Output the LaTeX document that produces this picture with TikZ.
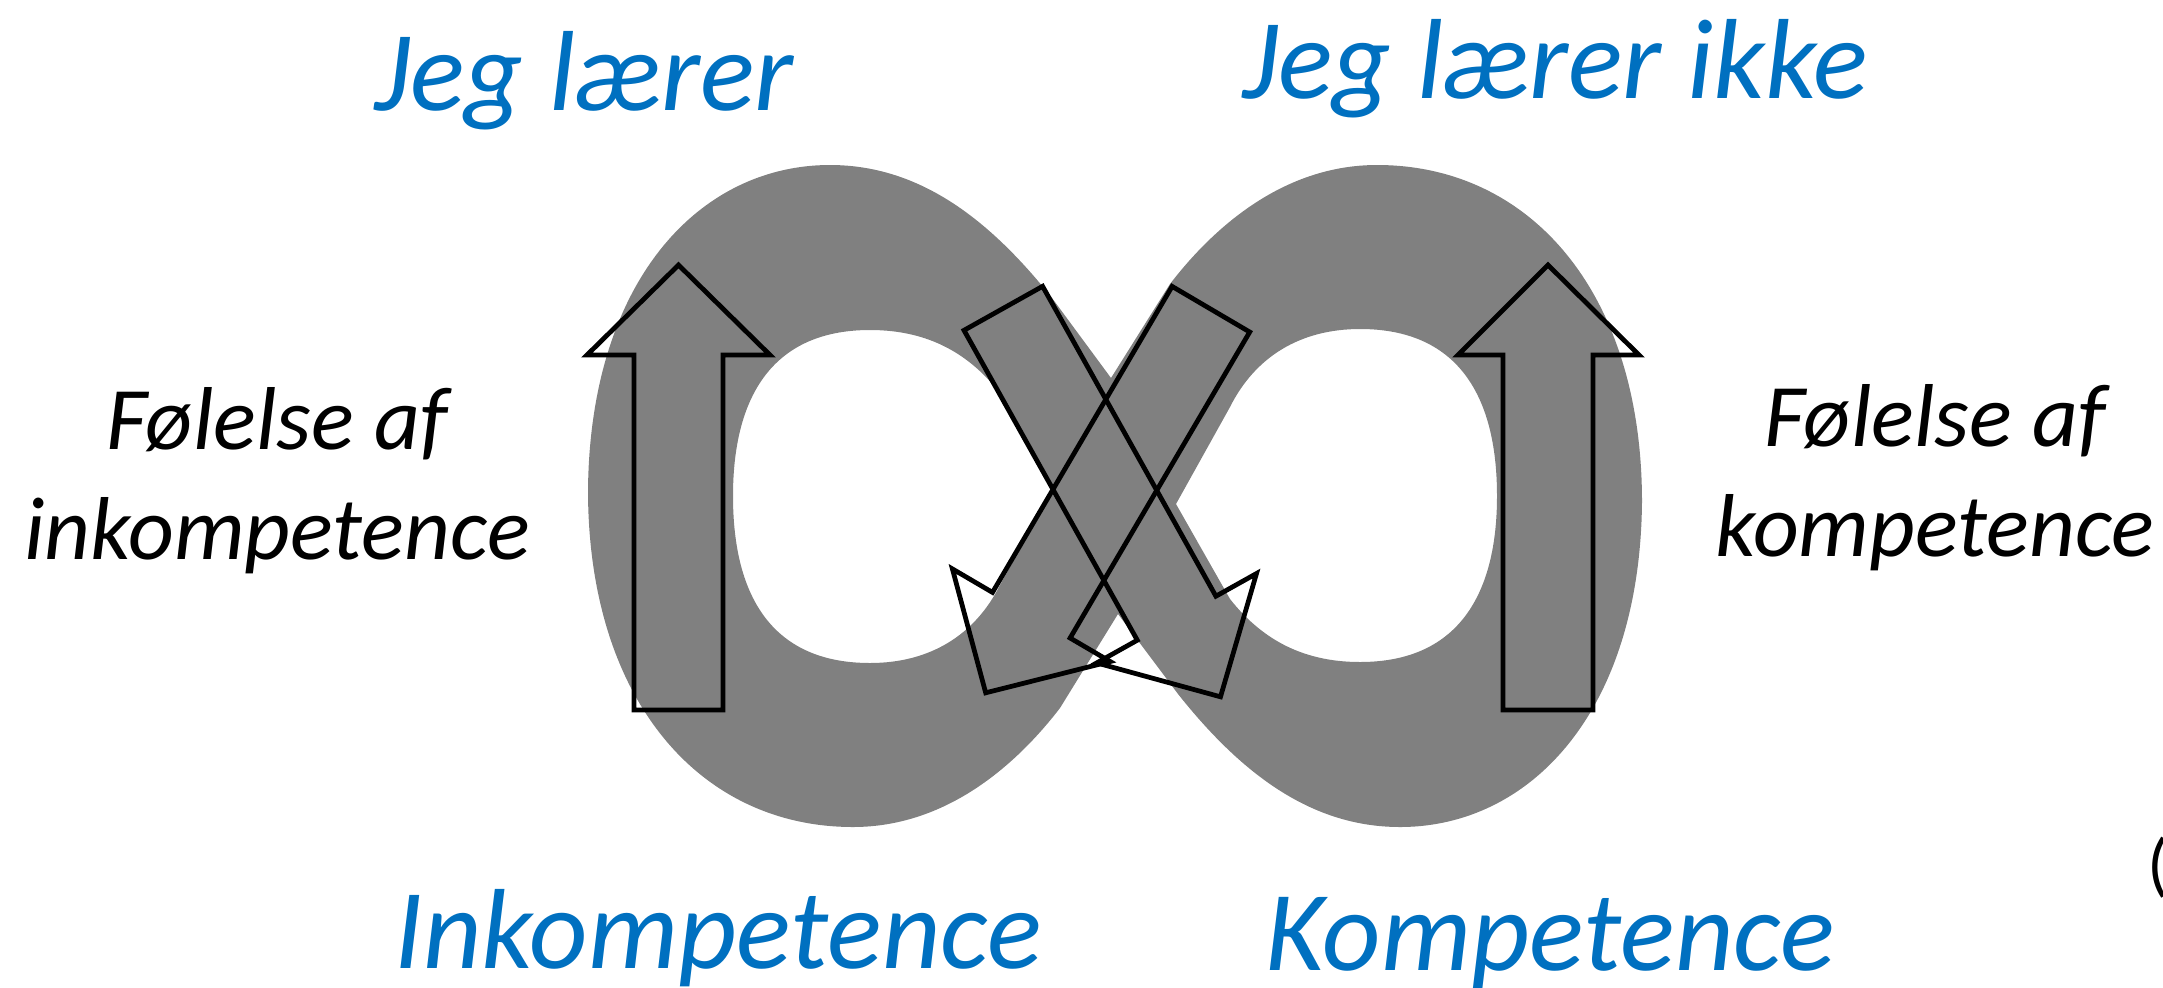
\documentclass[tikz,border=0pt]{standalone}
\usepackage{fontspec}
\setmainfont{Carlito}
\definecolor{loopgray}{RGB}{128,128,128}
\definecolor{labelblue}{RGB}{0,112,192}
\begin{document}
\begin{tikzpicture}[x=0.01cm,y=-0.01cm,
    arrowline/.style={draw=black,line width=1.35pt},
    bluelabel/.style={inner sep=0pt,text=labelblue,font=\fontsize{32.4}{38}\selectfont\itshape},
    blacklabel/.style={inner sep=0pt,align=center,text=black,font=\fontsize{25.4}{31.3}\selectfont\itshape}]
  \useasboundingbox (0,0) rectangle (2163,987);
  % the lying eight, with two holes
  \fill[loopgray,even odd rule]
    (830,165) .. controls (700,165) and (590,280) .. (588,490)
      .. controls (588,700) and (700,827) .. (853,827)
      .. controls (950,827) and (1020,760) .. (1060,708)
      -- (1118,614) -- (1178,694)
      .. controls (1240,772) and (1310,827) .. (1400,827)
      .. controls (1530,827) and (1640,712) .. (1642,502)
      .. controls (1642,292) and (1530,165) .. (1377,165)
      .. controls (1280,165) and (1210,232) .. (1170,284)
      -- (1111,378) -- (1052,298)
      .. controls (990,220) and (920,165) .. (830,165) -- cycle
    (870,330) .. controls (770,330) and (733,400) .. (733,496)
      .. controls (733,600) and (775,663) .. (870,663)
      .. controls (930,663) and (975,635) .. (1000,585)
      -- (1054,488) -- (1000,393)
      .. controls (970,355) and (930,330) .. (870,330) -- cycle
    (1360,662) .. controls (1460,662) and (1497,592) .. (1497,496)
      .. controls (1497,392) and (1455,329) .. (1360,329)
      .. controls (1300,329) and (1255,357) .. (1230,407)
      -- (1176,504) -- (1230,599)
      .. controls (1260,637) and (1300,662) .. (1360,662) -- cycle;
  % block arrows on top
  \draw[arrowline] (634,710) -- (634,355) -- (587,355) -- (678.5,265) -- (770,355) -- (723,355) -- (723,710) -- cycle;
  \draw[arrowline] (1503,710) -- (1503,355) -- (1458,355) -- (1548,265) -- (1639,355) -- (1593,355) -- (1593,710) -- cycle;
  \draw[arrowline] (964,330.3) -- (1137.3,640.2) -- (1096.7,662.9) -- (1220.5,696.8) -- (1256.5,573.5) -- (1215.9,596.2) -- (1042.6,286.3) -- cycle;
  \draw[arrowline] (1172.1,286.4) -- (992.5,592.4) -- (952.4,568.9) -- (985.7,692.8) -- (1110.2,661.5) -- (1070.1,638) -- (1249.7,332) -- cycle;
  % labels
  \node[bluelabel,anchor=base] (learn) at (584,110) {Jeg lærer};
  \node[bluelabel,anchor=base] (nolearn) at (1555,98) {Jeg lærer ikke};
  \node[bluelabel,anchor=base] (incompetence) at (718,968) {Inkompetence};
  \node[bluelabel,anchor=base] (competence) at (1550,970) {Kompetence};
  \node[blacklabel] (feelincomp) at (277,481) {Følelse af\\inkompetence};
  \node[blacklabel] (feelcomp) at (1935,478) {Følelse af\\kompetence};
  \node[inner sep=0pt,anchor=west,font=\fontsize{20}{24}\selectfont] (paren) at (2147,868) {(};
\end{tikzpicture}
\end{document}
